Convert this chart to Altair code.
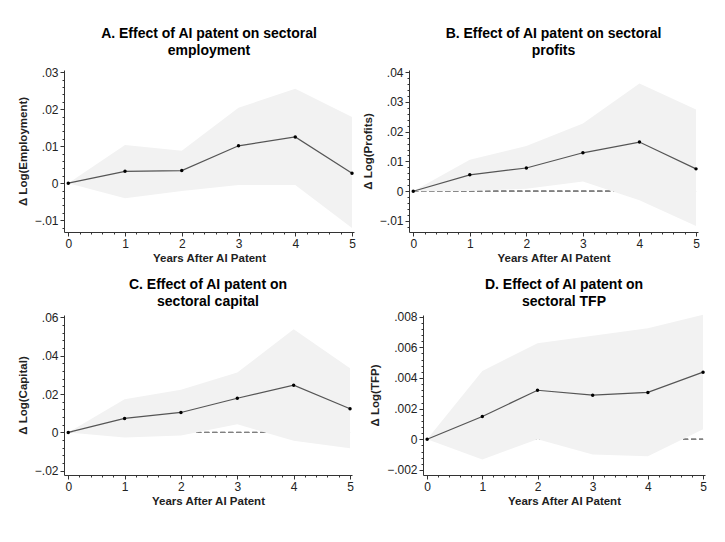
import altair as alt
import numpy as np
import pandas as pd

years = [0, 1, 2, 3, 4, 5]

emp_est = [0, 0.0032, 0.0034, 0.0101, 0.0125, 0.0027]
emp_hi = [0, 0.0103, 0.0088, 0.0204, 0.0255, 0.0179]
emp_lo = [0, -0.0041, -0.0021, -0.0005, -0.0005, -0.0121]

prof_est = [0, 0.0055, 0.0078, 0.0129, 0.0165, 0.0075]
prof_hi = [0, 0.0106, 0.0152, 0.0227, 0.0362, 0.0274]
prof_lo = [0, 0.0001, 0.0008, 0.0033, -0.0030, -0.0117]

cap_est = [0, 0.0073, 0.0104, 0.0178, 0.0246, 0.0123]
cap_hi = [0, 0.0173, 0.0222, 0.0312, 0.0538, 0.0335]
cap_lo = [0, -0.0026, -0.0016, 0.0042, -0.0043, -0.0082]

tfp_est = [0, 0.00149, 0.00320, 0.00288, 0.00306, 0.00438]
tfp_hi = [0, 0.00446, 0.00626, 0.00675, 0.00725, 0.00813]
tfp_lo = [0, -0.00132, 0.00001, -0.00099, -0.00110, 0.00066]

x_major = [0, 1, 2, 3, 4, 5]
emp_ticks = [-0.01, 0, 0.01, 0.02, 0.03]
prof_ticks = [-0.01, 0, 0.01, 0.02, 0.03, 0.04]
cap_ticks = [-0.02, 0, 0.02, 0.04, 0.06]
tfp_ticks = [-0.002, 0, 0.002, 0.004, 0.006, 0.008]

FONT = "Liberation Sans"
AXC = "#333333"


def minor_vals(lo, hi, step, majors):
    vals = np.round(np.arange(lo, hi + step / 2, step), 6)
    return [float(v) for v in vals if all(abs(v - m) > 1e-9 for m in majors)]


x_minor = minor_vals(0, 5, 0.2, x_major)
LABEL_EXPR = "datum.value == 0 ? '0' : replace(format(datum.value, '~g'), '0.', '.')"


def panel(est, lo, hi, ydom, ymaj, ymin_lo, ymin_hi, ystep, title, ytitle, w, h, toff):
    df = pd.DataFrame({"year": years, "est": est, "lo": lo, "hi": hi,
                       "zero": [0] * len(years)})
    xs = alt.Scale(domain=[-0.075, 5.035], nice=False, zero=False)
    ys = alt.Scale(domain=ydom, nice=False, zero=False)
    xaxis = alt.Axis(values=x_major, format="d", title="Years After AI Patent",
                     orient="bottom", tickSize=4, labelPadding=2, titlePadding=3,
                     grid=False)
    yaxis = alt.Axis(values=ymaj, labelExpr=LABEL_EXPR, title=ytitle,
                     orient="left", tickSize=4, labelPadding=2, titlePadding=6,
                     grid=False)
    X = alt.X("year:Q", scale=xs, axis=xaxis, title="Years After AI Patent")
    base = alt.Chart(df)
    zero = base.mark_rule(color="#808080", strokeDash=[5, 3], strokeWidth=1).encode(
        x=alt.XDatum(years[0], scale=xs, axis=xaxis, title="Years After AI Patent"),
        x2=alt.X2Datum(years[-1]),
        y=alt.Y("zero:Q", scale=ys, axis=yaxis, title=ytitle))
    area = base.mark_area(color="#f2f2f2", opacity=1).encode(
        x=X, y=alt.Y("lo:Q", scale=ys, axis=yaxis, title=ytitle), y2="hi:Q")
    line = base.mark_line(color="#555555", strokeWidth=1.2).encode(
        x=X, y=alt.Y("est:Q", scale=ys, axis=yaxis, title=ytitle))
    pts = base.mark_circle(color="#000000", size=12, opacity=1).encode(
        x=X, y=alt.Y("est:Q", scale=ys, axis=yaxis, title=ytitle))
    main = alt.layer(zero, area, line, pts)
    y_minor = minor_vals(ymin_lo, ymin_hi, ystep, ymaj)
    minor = base.mark_point(opacity=0).encode(
        x=alt.X("year:Q", scale=xs, axis=alt.Axis(values=x_minor, labels=False, domain=False,
                                                  tickSize=2, orient="bottom", grid=False),
                title=None),
        y=alt.Y("est:Q", scale=ys, axis=alt.Axis(values=y_minor, labels=False, domain=False,
                                                 tickSize=2, orient="left", grid=False),
                title=None))
    return alt.layer(main, minor).resolve_axis(x="independent", y="independent").properties(
        width=w, height=h,
        title=alt.TitleParams(text=title, fontSize=14, font=FONT, fontWeight="bold",
                              anchor="middle", frame="group", lineHeight=17, offset=toff,
                              color="#000000"))


A = panel(emp_est, emp_lo, emp_hi, [-0.0132, 0.0306], emp_ticks, -0.012, 0.030, 0.002,
          ["A. Effect of AI patent on sectoral", "employment"], "Δ Log(Employment)", 290, 162, 8)
B = panel(prof_est, prof_lo, prof_hi, [-0.0137, 0.0407], prof_ticks, -0.012, 0.040, 0.002,
          ["B. Effect of AI patent on sectoral", "profits"], "Δ Log(Profits)", 289, 162, 8)
C = panel(cap_est, cap_lo, cap_hi, [-0.0222, 0.0612], cap_ticks, -0.020, 0.060, 0.004,
          ["C. Effect of AI patent on", "sectoral capital"], "Δ Log(Capital)", 288, 160, 2)
D = panel(tfp_est, tfp_lo, tfp_hi, [-0.00233, 0.00811], tfp_ticks, -0.002, 0.008, 0.0004,
          ["D. Effect of AI patent on", "sectoral TFP"], "Δ Log(TFP)", 282, 160, 2)

row1 = alt.hconcat(A, B, spacing=6)
row2 = alt.hconcat(C, D, spacing=15)
chart = alt.vconcat(row1, row2, spacing=13).properties(
    padding={"left": 9, "top": 19, "right": 0, "bottom": 0}
).configure_view(stroke=None).configure_axis(
    domainColor=AXC, tickColor=AXC, labelColor="#222222", labelFont=FONT,
    labelFontSize=12, titleFont=FONT, titleFontSize=11.5, titleFontWeight="bold",
    titleColor="#222222", domainWidth=1, tickWidth=1
)

chart.save("out.html", embed_options={"renderer": "svg", "actions": False})
